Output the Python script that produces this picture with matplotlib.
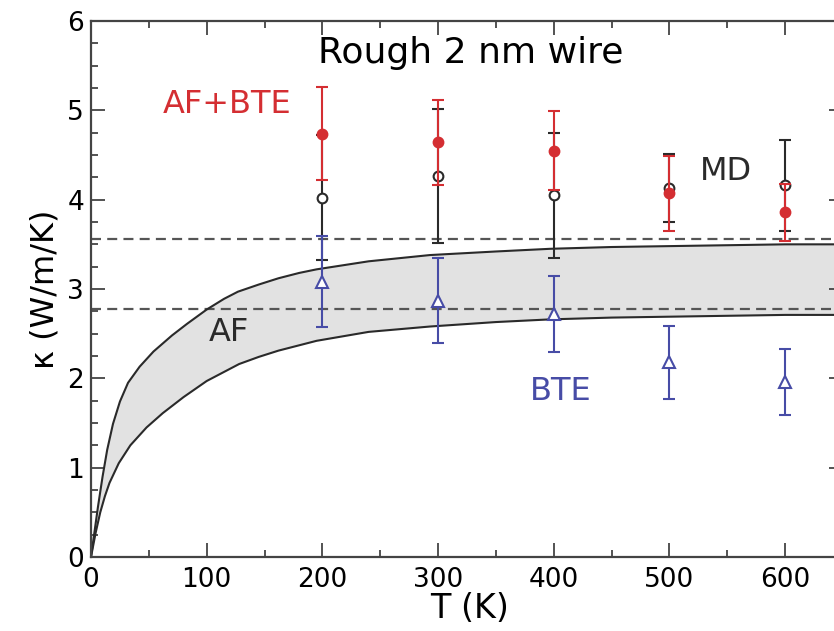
import matplotlib
matplotlib.use("Agg")
import matplotlib.pyplot as plt
from matplotlib.ticker import MultipleLocator

# AF band
T_af = [0, 3, 6, 10, 14, 19, 25, 32, 42, 54, 70, 83, 100, 115, 127, 145,
        162, 180, 195, 240, 293, 350, 397, 450, 500, 550, 600, 650]
k_af_upper = [0, 0.28, 0.56, 0.90, 1.20, 1.49, 1.74, 1.95, 2.13, 2.30, 2.48,
              2.61, 2.77, 2.89, 2.97, 3.05, 3.12, 3.18, 3.22, 3.31, 3.38,
              3.42, 3.45, 3.47, 3.48, 3.49, 3.50, 3.50]
T_af_lo = [0, 4, 8, 12, 16, 24, 34, 48, 62, 80, 100, 128, 145, 162, 195,
           240, 293, 350, 397, 450, 500, 550, 600, 650]
k_af_lower = [0, 0.27, 0.50, 0.68, 0.83, 1.05, 1.25, 1.45, 1.61, 1.79, 1.97,
              2.16, 2.24, 2.31, 2.42, 2.52, 2.58, 2.63, 2.66, 2.68, 2.69,
              2.70, 2.71, 2.71]

# simulation points
T_pts = [200, 300, 400, 500, 600]
k_md = [4.02, 4.26, 4.05, 4.13, 4.16]
err_md = [0.70, 0.75, 0.70, 0.38, 0.51]
k_afbte = [4.74, 4.64, 4.55, 4.07, 3.86]
err_afbte = [0.52, 0.48, 0.44, 0.42, 0.32]
k_bte = [3.08, 2.87, 2.72, 2.18, 1.96]
err_bte = [0.51, 0.48, 0.43, 0.41, 0.37]

# horizontal reference levels
k_levels = [3.56, 2.78]

RED = "#d42e32"
BLUE = "#474ca6"
BLACK = "#2a2a2a"

plt.rcParams["font.family"] = ["DejaVu Sans"]

fig = plt.figure(figsize=(8.34, 6.31), dpi=100)
ax = fig.add_axes([91 / 834, 74 / 631, 752 / 834, 536 / 631])

# shaded AF band: grey under the upper curve, white again under the lower one
ax.fill_between(T_af, k_af_upper, color="#e2e2e2", zorder=0)
ax.fill_between(T_af_lo, k_af_lower, color="white", zorder=0.5)
ax.plot(T_af, k_af_upper, color=BLACK, lw=1.5, zorder=2,
        solid_joinstyle="round")
ax.plot(T_af_lo, k_af_lower, color=BLACK, lw=1.5, zorder=2,
        solid_joinstyle="round")

for lev in k_levels:
    ax.axhline(lev, color="#555555", lw=1.6, ls=(0, (4.5, 2.8)), zorder=1)

ax.errorbar(T_pts, k_md, yerr=err_md, fmt="o", color=BLACK, mfc="white",
            mec=BLACK, ms=7, mew=1.5, elinewidth=1.5, capsize=4.5,
            capthick=1.5, zorder=3)
ax.errorbar(T_pts, k_afbte, yerr=err_afbte, fmt="o", color=RED, mfc=RED,
            mec=RED, ms=7, mew=1.5, elinewidth=1.5, capsize=4.5,
            capthick=1.5, zorder=4)
ax.errorbar(T_pts, k_bte, yerr=err_bte, fmt="^", color=BLUE, mfc="white",
            mec=BLUE, ms=8, mew=1.5, elinewidth=1.5, capsize=4.5,
            capthick=1.5, zorder=5)

# labels inside the plot
ax.text(118, 5.06, "AF+BTE", color=RED, fontsize=23, ha="center", va="center")
ax.text(549, 4.31, "MD", color=BLACK, fontsize=23, ha="center", va="center")
ax.text(119, 2.51, "AF", color=BLACK, fontsize=23, ha="center", va="center")
ax.text(406, 1.85, "BTE", color=BLUE, fontsize=23, ha="center", va="center")
ax.text(0.505, 0.94, "Rough 2 nm wire", transform=ax.transAxes,
        fontsize=26, ha="center", va="center", color="black")

ax.set_xlim(0, 650)
ax.set_ylim(0, 6)
ax.xaxis.set_major_locator(MultipleLocator(100))
ax.xaxis.set_minor_locator(MultipleLocator(50))
ax.yaxis.set_major_locator(MultipleLocator(1))
ax.yaxis.set_minor_locator(MultipleLocator(0.25))
ax.set_xticks([0, 100, 200, 300, 400, 500, 600])

ax.tick_params(which="both", direction="in", top=True, right=True,
               color="#444444", width=1.3)
ax.tick_params(which="major", length=10, labelsize=19, pad=5)
ax.tick_params(axis="x", which="major", pad=7)
ax.tick_params(which="minor", length=5)
for s in ax.spines.values():
    s.set_linewidth(1.6)
    s.set_color("#444444")

ax.set_xlabel("T (K)", fontsize=24)
ax.set_ylabel("κ (W/m/K)", fontsize=23)
ax.xaxis.set_label_coords(0.504, -0.065)
ax.yaxis.set_label_coords(-0.04, 0.5)

fig.savefig("out.png", dpi=100)
